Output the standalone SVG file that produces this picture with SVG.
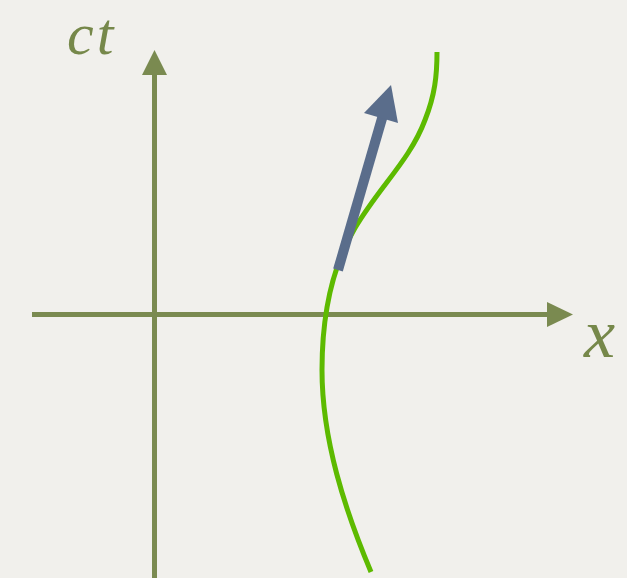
<svg xmlns="http://www.w3.org/2000/svg" width="627" height="578" viewBox="0 0 627 578">
  <style>
    .axis { stroke: #7a8a50; stroke-width: 5; fill: none; }
    .axhead { fill: #7a8a50; }
    .lbl { font-family: "Liberation Serif", "DejaVu Serif", serif; font-style: italic; fill: #76884a; }
    .world { stroke: #5dba00; stroke-width: 5; fill: none; stroke-linecap: butt; }
    .vec { stroke: #5a6d8b; stroke-width: 10; fill: none; }
    .vechead { fill: #5a6d8b; }
  </style>
  <rect width="627" height="578" fill="#f1f0ec"/>
  <g id="connectors">
    <g id="ct-axis">
      <line class="axis" x1="154.5" y1="578" x2="154.5" y2="72"/>
      <polygon class="axhead" points="154.5,50 167,75 142,75"/>
    </g>
    <g id="x-axis">
      <line class="axis" x1="32" y1="314.5" x2="550" y2="314.5"/>
      <polygon class="axhead" points="573,314.5 547,302 547,327"/>
    </g>
    <g id="worldline">
      <path class="world" d="M 371 572 C 345 510 322 440 322 370 C 322 320 330 270 355 228 C 380 186 410 160 425 120 C 435 95 437 75 437 52"/>
    </g>
    <g id="four-velocity">
      <line class="vec" x1="338" y1="270" x2="383" y2="115"/>
      <polygon class="vechead" points="391,85 398,123 364,113"/>
    </g>
  </g>
  <g id="label-ct">
    <text class="lbl" x="67" y="54" font-size="60" letter-spacing="3">ct</text>
  </g>
  <g id="label-x">
    <text class="lbl" x="584" y="357" font-size="70">x</text>
  </g>
</svg>
